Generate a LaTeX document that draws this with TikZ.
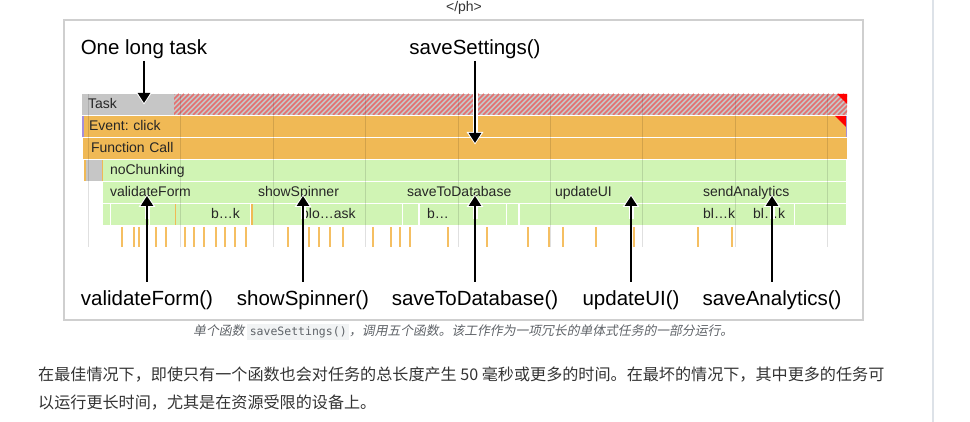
\documentclass[tikz,border=0pt]{standalone}
\usepackage{fontspec}
\setmainfont{Liberation Sans}
\setmonofont{DejaVu Sans Mono}
\newfontfamily\cjk{Noto Sans CJK SC}
\newfontfamily\cjkit[FakeSlant=0.2]{Noto Sans CJK SC}
\usepackage{xcolor}
\usepackage{tikz}
\usetikzlibrary{arrows.meta}
\frenchspacing

\definecolor{taskgray}{HTML}{C6C6C6}
\definecolor{hatchred}{HTML}{E46F6F}
\definecolor{callorange}{HTML}{F0B955}
\definecolor{funcgreen}{HTML}{D0F4B4}
\definecolor{tickorange}{HTML}{F5BF62}
\definecolor{framegray}{HTML}{CFCFCF}
\definecolor{edgepurple}{HTML}{A58FDA}
\definecolor{pagegray}{HTML}{DDE2E8}
\definecolor{capgray}{HTML}{5F6368}
\definecolor{bodytext}{HTML}{333333}
\definecolor{codebg}{HTML}{F1F3F4}

\newcommand{\codebit}[1]{{\setlength{\fboxsep}{2.5pt}\colorbox{codebg}{\ttfamily\fontsize{11.5}{13}\selectfont #1}}}

\begin{document}
\begin{tikzpicture}[
    x=1pt, y=-1pt,
    bar/.style={anchor=north west, minimum height=21pt, inner ysep=0pt, inner xsep=7pt, outer sep=0pt, align=left, text height=11pt, text depth=2pt, font=\fontsize{14}{16}\selectfont, text=black!85},
    chunk/.style={anchor=west, inner sep=0pt, text height=11pt, text depth=2pt, font=\fontsize{14}{16}\selectfont, text=black!85},
    callout/.style={anchor=base, inner sep=2pt, font=\fontsize{20.5}{24}\selectfont},
    gridline/.style={black, opacity=0.12, line width=1pt},
    tickmark/.style={tickorange, line width=1.3pt},
    halo/.style={white, line width=5pt, -{Triangle[width=16pt, length=12.5pt]}},
    arrow/.style={line width=2.5pt, -{Triangle[width=12pt, length=10pt]}}
]
\useasboundingbox (0,0) rectangle (970,422);

% Frame
\draw[pagegray, line width=1.5pt] (933,0) -- (933,422);
\draw[framegray, line width=1.8pt] (64,20) rectangle (863,320);
\node[inner sep=0pt, font=\fontsize{14}{16}\selectfont, text=bodytext] (phTag) at (464,8) {\textless/ph\textgreater};

% Tracks
\node[bar, fill=taskgray, inner xsep=6pt, text width=753pt] (taskBar) at (82,94) {Task};
\begin{scope}
\clip (174,94) rectangle (847,115);
\foreach \s in {0,5,...,700}
    \draw[hatchred, line width=1.7pt] (174+\s-21,115) -- (174+\s,94);
\end{scope}
\fill[red] (837,94) -- (847,94) -- (847,104) -- cycle;

\node[bar, fill=callorange, text width=751pt] (eventBar) at (82,116) {Event: click};
\fill[red] (835,116) -- (846,116) -- (846,127) -- cycle;
\fill[edgepurple] (82,116) rectangle (83.5,137);
\fill[edgepurple] (845.5,116) rectangle (847,137);

\node[bar, fill=callorange, inner xsep=8pt, text width=748pt] (callBar) at (83,138) {Function Call};

\fill[callorange] (84,160) rectangle (85.5,181);
\fill[taskgray] (86,160) rectangle (102,181);
\fill[callorange] (102,160) rectangle (103,181);
\node[bar, fill=funcgreen, text width=729pt] (chunkBar) at (103,160) {noChunking};

\node[bar, fill=funcgreen, text width=134pt] (validateBar) at (103,182) {validateForm};
\node[bar, fill=funcgreen, text width=135pt] (spinnerBar) at (251,182) {showSpinner};
\node[bar, fill=funcgreen, text width=134pt] (databaseBar) at (400,182) {saveToDatabase};
\node[bar, fill=funcgreen, text width=134pt] (updateBar) at (548,182) {updateUI};
\node[bar, fill=funcgreen, text width=136pt] (analyticsBar) at (696,182) {sendAnalytics};

% Sub calls
\foreach \a/\b in {103/110, 111/149, 150/174.5, 176/250, 253/402, 403/418, 420/506, 507/518, 520/794, 795/846}
    \fill[funcgreen] (\a,204) rectangle (\b,225);
\foreach \a in {174.5, 251}
    \fill[callorange] (\a,204) rectangle (\a+1.5,225);
\node[chunk] (chunkA) at (211,214.5) {b…k};
\node[chunk] (chunkB) at (301,214.5) {blo…ask};
\node[chunk] (chunkC) at (427,214.5) {b…};
\node[chunk] (chunkD) at (703,214.5) {bl…k};
\node[chunk] (chunkE) at (753,214.5) {bl…k};

% Ticks and grid
\foreach \x in {122,134,139,156,166,185,194,204,216,225,235,246,288,309,319,330,343,373,391,400,410,448,487,528,549,563,596,634,698,732}
    \draw[tickmark] (\x,227) -- (\x,247);
\foreach \x in {88,180,273,365,458,550,642,735,827}
    \draw[gridline] (\x,94) -- (\x,247);

% Callouts
\node[callout] (oneTask) at (144,54.5) {One long task};
\node[callout] (saveSettings) at (475,54.5) {saveSettings()};
\node[callout] (validateLbl) at (147,306) {validateForm()};
\node[callout] (spinnerLbl) at (303,306) {showSpinner()};
\node[callout] (databaseLbl) at (475,306) {saveToDatabase()};
\node[callout] (updateLbl) at (631,306) {updateUI()};
\node[callout] (analyticsLbl) at (772,306) {saveAnalytics()};

\coordinate (taskTip) at (144,103);
\coordinate (settingsTip) at (475,143);
\coordinate (validateTip) at (147,196);
\coordinate (spinnerTip) at (303,196);
\coordinate (databaseTip) at (475,196);
\coordinate (updateTip) at (631,196);
\coordinate (analyticsTip) at (772,196);

% Links (white halo first, then the black arrow)
\foreach \lbl/\tip in {oneTask/taskTip, saveSettings/settingsTip} {
    \draw[halo, shorten <=30pt, shorten >=-1.5pt] (\lbl) -- (\tip);
    \draw[arrow] (\lbl) -- (\tip);
}
\foreach \lbl/\tip in {validateLbl/validateTip, spinnerLbl/spinnerTip, databaseLbl/databaseTip, updateLbl/updateTip, analyticsLbl/analyticsTip} {
    \draw[halo, shorten <=70pt, shorten >=-1.5pt] (\lbl) -- (\tip);
    \draw[arrow, shorten <=7pt] (\lbl) -- (\tip);
}

% Caption and text
\node[anchor=west, inner sep=0pt, text=capgray, font=\cjkit\fontsize{12.8}{14}\selectfont] (caption) at (193,332) {单个函数 \codebit{saveSettings()}，调用五个函数。该工作作为一项冗长的单体式任务的一部分运行。};
\node[anchor=west, inner sep=0pt, text=bodytext, font=\cjk\fontsize{16.1}{20}\selectfont] (bodyOne) at (38,375) {在最佳情况下，即使只有一个函数也会对任务的总长度产生 50 毫秒或更多的时间。在最坏的情况下，其中更多的任务可};
\node[anchor=west, inner sep=0pt, text=bodytext, font=\cjk\fontsize{16.1}{20}\selectfont] (bodyTwo) at (38,403) {以运行更长时间，尤其是在资源受限的设备上。};

\end{tikzpicture}
\end{document}
